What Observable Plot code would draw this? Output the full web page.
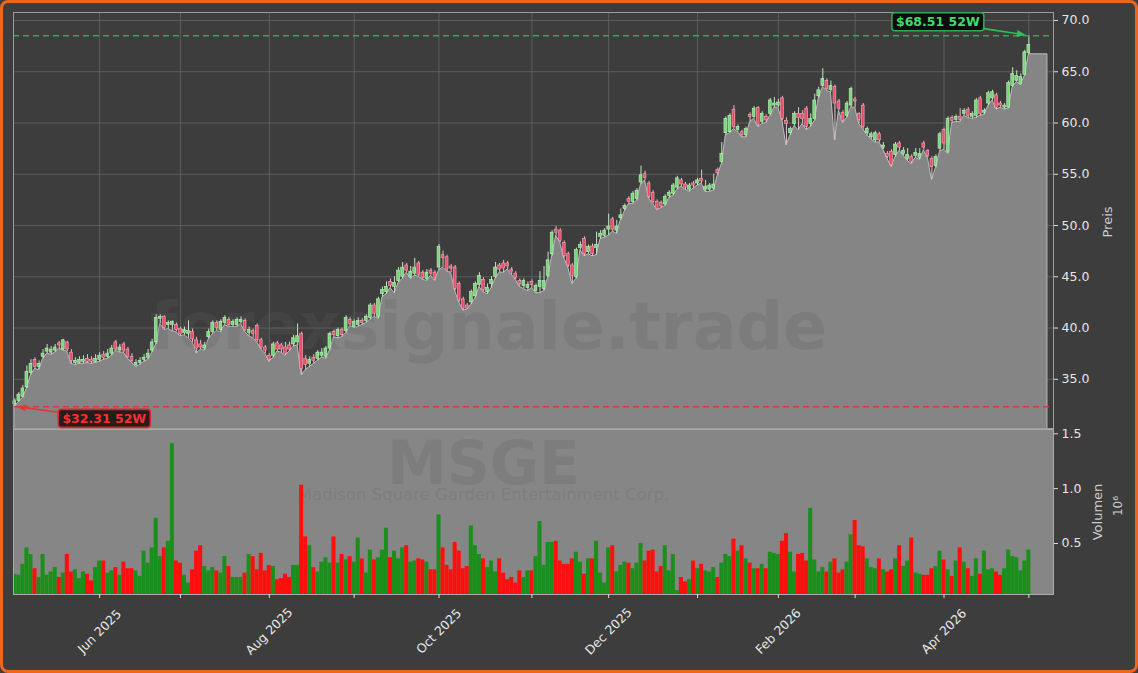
<!DOCTYPE html>
<html><head><meta charset="utf-8">
<script src="https://cdn.jsdelivr.net/npm/d3@7"></script>
<script src="https://cdn.jsdelivr.net/npm/@observablehq/plot@0.6"></script>
<style>
html,body{margin:0;padding:0;background:#3d3d3d;}
#wrap{position:relative;width:1138px;height:673px;overflow:hidden;background:#3d3d3d;font-family:"DejaVu Sans",sans-serif;}
#wrap svg{position:absolute;left:0;overflow:visible;}
#border{position:absolute;left:0;top:0;width:1138px;height:673px;box-sizing:border-box;border:3px solid #f0651a;border-radius:8px;pointer-events:none;}
</style></head><body>
<div id="wrap"></div>
<script>
// ---- data (trading-day index 0 = 1 May 2025 ... 251 = 1 May 2026) ----
const openP = [32.55,32.9,33.3,34.2,35.6,36.9,36.2,37.2,37.7,37.6,37.8,38.5,37.9,38.6,37.6,36.6,36.6,36.7,37.0,36.9,36.7,36.9,37.4,37.2,37.5,38.6,37.8,38.4,37.9,37.2,36.4,36.6,36.9,37.1,37.8,38.6,40.9,41.1,40.3,40.3,40.3,39.9,39.5,39.4,39.6,38.8,38.4,38.0,39.1,39.6,40.5,39.8,40.5,40.8,40.3,40.3,40.6,40.7,39.5,39.7,40.2,38.8,38.1,37.3,37.3,38.5,38.3,38.1,
38.3,38.4,38.6,39.4,37.0,36.5,37.1,37.0,37.3,37.2,38.0,39.6,39.2,39.8,39.7,40.8,40.1,40.3,40.7,40.7,41.0,42.2,41.1,43.3,43.5,44.5,44.0,44.6,45.0,46.1,45.0,45.3,46.3,45.4,44.8,45.6,45.4,45.9,47.1,46.9,46.0,45.9,44.3,42.8,42.2,42.5,43.1,44.2,44.7,43.5,44.3,45.0,46.1,46.3,46.3,45.7,45.3,44.6,44.1,43.9,44.5,43.6,44.0,43.8,45.1,47.2,49.6,
49.5,48.3,47.2,46.1,45.0,47.8,48.7,47.4,47.95,47.8,48.9,49.0,49.6,50.6,49.5,50.7,51.6,52.6,52.3,52.6,54.2,55.0,54.1,53.2,52.3,52.2,52.05,52.9,53.1,53.7,54.4,54.0,53.5,54.1,54.1,54.55,53.5,53.5,53.6,55.4,56.2,59.0,59.1,61.3,59.3,59.1,58.8,60.8,60.6,61.45,60.1,60.6,60.9,61.7,61.7,62.4,60.2,59.0,
59.9,60.9,60.9,61.4,59.9,60.4,62.6,63.6,64.1,63.2,63.5,62.1,61.0,60.7,61.7,62.3,60.9,61.7,59.0,58.6,58.3,58.9,57.6,57.0,57.2,56.9,58.0,57.0,56.5,56.7,56.8,56.6,58.0,57.3,56.5,55.8,57.5,59.3,57.2,60.5,60.3,60.6,60.9,61.3,60.6,60.7,62.4,61.0,61.9,62.4,62.7,61.9,61.5,61.5,63.6,64.1,63.8,64.7,66.8];
const highP = [33.1,33.7,34.4,36.3,36.9,37.1,36.8,37.9,38.4,38.2,38.4,38.7,38.9,38.7,37.9,37.1,37.2,37.3,37.4,37.2,37.4,37.6,37.7,37.9,38.3,38.8,38.4,38.6,38.1,37.5,36.9,37.1,37.4,37.9,38.9,41.3,41.3,41.2,40.7,40.7,40.5,40.1,40.1,40.7,39.9,39.1,38.8,38.6,39.9,40.7,40.7,40.8,41.2,41.0,40.8,41.0,41.1,40.9,40.1,39.9,40.4,39.0,38.3,37.5,38.6,38.7,38.5,38.6,
38.6,39.3,40.4,39.6,37.3,37.2,37.4,37.8,38.0,38.2,39.6,39.8,40.0,40.0,41.2,41.0,40.8,41.0,40.9,41.3,42.4,42.4,43.0,44.0,44.5,44.8,45.0,45.9,46.4,46.3,46.0,46.8,46.5,45.6,45.7,45.8,45.6,48.15,47.5,47.1,46.2,46.1,44.5,43.0,42.4,43.7,44.5,45.4,44.9,44.3,45.0,46.4,46.3,46.6,46.5,45.9,45.5,44.8,44.8,44.5,44.7,44.3,45.5,46.0,47.4,49.5,49.9,
49.7,48.5,47.4,46.3,47.8,48.4,48.9,48.1,48.2,49.35,49.5,49.7,51.1,50.8,50.5,51.6,52.1,52.8,53.3,53.6,55.8,55.3,54.3,53.4,52.5,52.4,53.0,53.4,54.1,54.8,54.6,54.2,54.1,54.3,54.6,55.4,54.4,54.1,55.0,55.6,58.1,60.6,60.9,61.7,59.8,59.3,59.6,61.0,61.6,61.6,61.1,60.8,62.4,62.5,62.3,62.6,60.5,59.6,
61.1,61.5,61.2,61.6,60.9,62.8,63.5,65.3,64.3,64.1,63.7,62.3,61.2,62.1,63.5,62.5,61.0,61.9,59.6,59.1,59.2,59.1,58.1,57.2,57.4,58.1,58.2,57.6,57.5,56.9,57.5,57.5,58.2,57.4,56.7,56.9,59.1,59.5,60.6,60.7,60.8,61.4,61.4,61.5,61.1,62.4,62.6,61.4,63.1,63.2,62.9,62.1,61.9,64.1,65.4,65.1,64.8,67.1,68.51];
const lowP = [32.31,32.8,33.2,34.1,35.4,36.0,35.9,37.0,37.5,37.4,37.6,38.0,37.8,37.7,36.5,36.4,36.5,36.5,36.6,36.5,36.6,36.7,36.9,37.0,37.3,37.8,37.6,37.6,37.0,36.6,36.2,36.4,36.7,36.9,37.6,38.4,40.4,39.8,39.9,39.7,39.6,39.2,39.3,39.0,38.6,37.5,37.9,37.8,38.9,39.4,39.7,39.6,40.3,40.1,40.1,40.1,40.4,39.6,39.2,39.0,38.6,37.9,37.5,36.7,37.1,37.7,37.6,37.3,
37.7,38.2,38.3,35.4,35.9,36.2,36.5,36.8,37.1,37.0,37.8,39.1,39.0,39.1,39.5,40.2,40.0,40.1,40.3,40.5,40.8,41.1,40.9,43.0,43.3,43.9,43.4,44.4,44.8,45.4,44.8,45.1,45.0,44.7,44.6,45.1,44.6,45.6,45.9,45.5,45.4,43.6,42.5,41.7,41.8,42.3,42.9,44.0,43.5,43.3,43.9,44.8,45.4,45.4,45.7,45.2,44.7,44.0,43.8,43.6,43.9,43.4,43.4,43.6,44.9,47.0,49.0,
48.3,46.8,45.9,44.3,44.8,47.6,47.0,47.2,47.0,47.1,48.7,48.8,49.0,49.4,49.2,50.5,51.4,52.1,52.1,52.4,54.0,54.4,52.6,52.1,51.5,51.7,51.9,52.7,52.9,53.5,53.8,53.5,53.3,53.6,53.9,54.1,53.25,53.3,53.4,54.9,56.0,58.8,59.0,59.4,59.1,58.6,58.6,60.1,60.4,59.6,59.9,60.0,60.7,61.5,61.5,60.2,57.8,58.8,
59.7,59.3,59.9,59.3,59.6,60.2,62.4,63.5,63.1,63.0,58.3,61.2,60.0,60.5,61.5,61.5,59.9,59.4,58.8,58.4,58.1,58.1,57.4,56.5,55.7,56.7,57.3,56.8,56.3,56.0,56.6,56.4,57.3,56.6,54.45,55.6,57.2,57.4,57.0,60.0,60.1,60.1,60.7,60.5,60.4,60.5,60.7,60.8,61.7,62.2,61.3,61.5,61.3,61.4,63.5,64.0,63.7,64.6,66.7];
const closeP = [32.85,33.5,34.1,35.7,36.5,36.2,36.5,37.5,38.0,37.9,38.1,38.3,38.8,37.9,36.8,36.8,36.9,36.9,36.7,36.7,37.0,37.3,37.1,37.5,38.0,37.9,38.1,37.8,37.2,36.8,36.6,36.8,37.1,37.5,38.6,41.0,41.1,40.0,40.5,40.6,39.8,39.4,39.8,39.7,38.9,38.0,38.1,38.3,39.6,40.5,40.0,40.6,41.0,40.3,40.6,40.8,40.8,39.8,39.8,39.4,38.8,38.1,37.8,36.9,38.4,37.9,37.9,37.5,
37.9,39.0,39.2,36.0,36.4,36.9,36.8,37.6,37.6,38.0,39.4,39.3,39.8,39.3,41.0,40.4,40.6,40.7,40.5,41.1,42.2,41.4,42.8,43.7,44.0,44.1,44.4,45.6,45.9,45.6,45.5,45.9,45.2,44.9,45.4,45.3,44.9,47.9,46.8,45.7,45.8,43.8,42.7,41.9,41.9,43.5,44.3,45.1,43.7,43.9,44.7,45.9,45.7,45.8,46.0,45.5,44.9,44.3,44.6,44.2,44.2,44.1,44.6,44.6,46.6,49.3,49.3,
48.5,47.0,46.1,45.1,47.6,48.1,47.2,47.9,47.2,48.1,49.2,49.5,49.9,49.6,49.9,51.0,51.9,52.3,53.1,53.4,54.9,54.65,52.8,52.3,51.6,51.85,52.8,53.2,53.9,54.6,54.0,53.7,53.9,53.9,54.4,54.3,53.8,53.9,54.0,55.1,57.0,60.4,60.7,59.6,59.6,58.8,59.4,60.6,61.4,59.8,60.9,60.25,62.2,61.9,62.0,60.4,59.9,59.4,
60.9,60.5,60.4,59.6,60.4,62.2,63.2,64.3,63.3,63.6,61.9,61.4,60.2,61.9,63.3,62.1,60.3,59.6,59.4,58.9,59.0,58.3,57.8,56.7,55.9,57.9,57.6,57.3,56.9,56.2,57.1,57.0,57.6,56.8,55.7,56.7,58.9,58.0,60.4,60.2,60.6,60.3,61.2,60.7,60.9,62.2,60.9,61.2,62.9,63.0,61.5,61.7,61.7,63.9,64.8,64.6,64.5,66.9,67.6];
// volume in millions of shares
const volumeM = [0.22,0.21,0.31,0.46,0.40,0.27,0.19,0.40,0.21,0.24,0.28,0.19,0.23,0.40,0.24,0.26,0.18,0.24,0.22,0.16,0.28,0.34,0.34,0.23,0.25,0.28,0.21,0.33,0.27,0.27,0.25,0.20,0.43,0.32,0.46,0.73,0.38,0.46,0.52,1.41,0.34,0.32,0.21,0.14,0.26,0.43,0.48,0.29,0.25,0.28,0.25,0.23,0.38,0.29,0.19,0.19,0.19,0.23,0.40,0.38,0.26,0.41,0.25,0.30,0.29,0.17,0.18,0.22,0.19,0.30,0.30,1.03,0.56,0.48,0.28,0.24,0.33,0.37,0.32,0.56,0.32,0.40,0.35,0.38,0.33,0.55,0.36,0.23,0.44,0.35,0.37,0.44,0.64,0.37,0.43,0.36,0.46,0.48,0.33,0.34,0.36,0.35,0.33,0.26,0.26,0.76,0.46,0.30,0.26,0.51,0.43,0.27,0.29,0.66,0.48,0.40,0.36,0.28,0.34,0.24,0.36,0.23,0.17,0.19,0.14,0.25,0.19,0.25,0.25,0.38,0.70,0.30,0.51,0.51,0.52,
0.34,0.31,0.31,0.36,0.42,0.33,0.22,0.36,0.36,0.52,0.23,0.14,0.46,0.48,0.24,0.30,0.33,0.32,0.27,0.32,0.50,0.34,0.43,0.44,0.24,0.29,0.48,0.25,0.40,0.07,0.19,0.15,0.17,0.34,0.27,0.31,0.25,0.24,0.28,0.19,0.32,0.40,0.38,0.54,0.43,0.48,0.36,0.32,0.27,0.27,0.31,0.27,0.42,0.41,0.40,0.52,0.59,0.42,0.24,0.40,0.41,0.34,0.82,0.35,0.24,0.28,0.24,0.33,0.36,0.23,0.26,0.33,0.58,0.71,0.48,0.47,0.36,0.28,0.27,0.36,0.26,0.24,0.26,0.36,0.48,0.29,0.34,0.55,0.23,0.22,0.21,0.21,0.27,0.29,0.43,0.35,0.26,0.20,0.34,0.46,0.33,0.27,0.20,0.36,0.22,0.43,0.26,0.27,0.24,0.21,0.27,0.44,0.38,0.37,0.25,0.34,0.44];
const monthTickIdx = [21,41,63,84,105,128,147,169,189,208,230,251];
const monthTickLabels = ["Jun 2025","","Aug 2025","","Oct 2025","","Dec 2025","","Feb 2026","","Apr 2026",""];
const priceTicks = [35,40,45,50,55,60,65,70];
const volumeTicks = [0.5,1.0,1.5];
const low52 = 32.31, high52 = 68.51;
const lowLabel = "$32.31 52W", highLabel = "$68.51 52W";
const areaTailIndex = 255.6;
const watermark = "forexsignale.trade", ticker = "MSGE", company = "Madison Square Garden Entertainment Corp.";

// ---- build tables ----
const candles = openP.map((o, i) => ({i, o, h: highP[i], l: lowP[i], c: closeP[i], v: volumeM[i], up: closeP[i] >= openP[i]}));
const areaData = candles.map(d => ({i: d.i, y: d.l})).concat([{i: areaTailIndex, y: lowP[lowP.length - 1]}]);
const monthLabels = monthTickIdx.map((i, k) => ({i, label: monthTickLabels[k]})).filter(d => d.label);
const xDomain = [-0.32, 257.1];
const font = "DejaVu Sans";

const price = Plot.plot({
  width: 1138, height: 430,
  marginLeft: 13, marginRight: 85, marginTop: 12, marginBottom: 2,
  style: {background: "transparent", color: "#e6e6e6", fontFamily: font, fontSize: "12.5px", overflow: "visible"},
  x: {domain: xDomain, axis: null},
  y: {domain: [30.2, 70.78], axis: null},
  color: {type: "identity"},
  marks: [
    Plot.gridX(monthTickIdx, {stroke: "#656565", strokeOpacity: 1, strokeWidth: 0.8}),
    Plot.gridY(priceTicks, {stroke: "#656565", strokeOpacity: 1, strokeWidth: 0.8}),
    Plot.areaY(areaData, {x: "i", y: "y", fill: "#858585", stroke: "#bcbcbc", strokeWidth: 1, clip: true}),
    Plot.text([watermark], {frameAnchor: "middle", dx: -45, dy: 108, fontSize: 65, fontWeight: "bold", fill: "#5e5e5e", fillOpacity: 0.22, fontFamily: font}),
    Plot.ruleX(candles, {x: "i", y1: "l", y2: "h", stroke: d => d.up ? "#c4e2c4" : "#e2bfc6", strokeWidth: 1}),
    Plot.rect(candles, {x1: d => d.i - 0.35, x2: d => d.i + 0.35, y1: "o", y2: "c",
      fill: d => d.up ? "#78d878" : "#ee4b6a", stroke: d => d.up ? "#c4f0c4" : "#f5a8b8", strokeWidth: 0.6}),
    Plot.ruleY([low52], {stroke: "#d63c3c", strokeDasharray: "6,4", strokeWidth: 1.5}),
    Plot.ruleY([high52], {stroke: "#2fa852", strokeDasharray: "6,4", strokeWidth: 1.5}),
    Plot.frame({stroke: "#9c9c9c", strokeWidth: 1}),
    Plot.axisY(priceTicks, {anchor: "right", tickFormat: d3.format(".1f"), tickSize: 4, tickPadding: 4, stroke: "#dcdcdc", fill: "#e6e6e6", label: null, fontSize: 12.5})
  ]
});

const vol = Plot.plot({
  width: 1138, height: 245,
  marginLeft: 13, marginRight: 85, marginTop: 1, marginBottom: 79,
  style: {background: "transparent", color: "#e6e6e6", fontFamily: font, fontSize: "12.5px", overflow: "visible"},
  x: {domain: xDomain, axis: null},
  y: {domain: [0.035, 1.539], axis: null},
  color: {type: "identity"},
  marks: [
    Plot.frame({fill: "#868686"}),
    Plot.text([ticker], {frameAnchor: "middle", dx: -50, dy: -47, fontSize: 60, fontWeight: "bold", fill: "#5e5e5e", fillOpacity: 0.22, fontFamily: font}),
    Plot.text([company], {frameAnchor: "middle", dx: -50, dy: -17, fontSize: 16.5, fill: "#5e5e5e", fillOpacity: 0.22, fontFamily: font}),
    Plot.rectY(candles, {x1: d => d.i - 0.5, x2: d => d.i + 0.5, y1: 0, y2: "v", fill: d => d.up ? "#1b8f1b" : "#ff0e0e", clip: true}),
    Plot.frame({stroke: "#ababab", strokeWidth: 1}),
    Plot.axisX(monthTickIdx, {anchor: "bottom", tickFormat: () => "", tickSize: 4, stroke: "#dcdcdc", label: null}),
    Plot.text(monthLabels, {x: "i", text: "label", frameAnchor: "bottom", dy: 37, rotate: -45, textAnchor: "middle", lineAnchor: "middle", fill: "#e6e6e6", fontSize: 12.5, fontFamily: font}),
    Plot.axisY(volumeTicks, {anchor: "right", tickFormat: d3.format(".1f"), tickSize: 4, tickPadding: 4, stroke: "#dcdcdc", fill: "#e6e6e6", label: null, fontSize: 12.5})
  ]
});

const wrap = document.getElementById("wrap");
price.style.top = "0px";
vol.style.top = "428px";
wrap.appendChild(price);
wrap.appendChild(vol);
const border = document.createElement("div");
border.id = "border";
wrap.appendChild(border);

// axis titles
function vText(svg, x, y, txt, size, color) {
  d3.select(svg).append("text")
    .attr("transform", `translate(${x},${y}) rotate(-90)`)
    .attr("text-anchor", "middle").attr("dominant-baseline", "central")
    .attr("font-family", font).attr("font-size", size).attr("fill", color).text(txt);
}
vText(price, 1107, 222, "Preis", 13, "#cccccc");
vText(vol, 1097, 84, "Volumen", 13, "#cccccc");
vText(vol, 1118, 78, "10⁶", 12, "#cccccc");

// 52-week annotations
function annotate(plot, xi, yv, dx, dy, label, st) {
  const X = plot.scale("x").apply(xi), Y = plot.scale("y").apply(yv);
  const g = d3.select(plot).append("g");
  const cx = X + dx, cy = Y + dy;
  const rect = g.append("rect");
  const text = g.append("text").attr("x", cx).attr("y", cy)
    .attr("text-anchor", "middle").attr("dominant-baseline", "central")
    .attr("font-family", font).attr("font-weight", "bold").attr("font-size", 12.5)
    .attr("fill", st.text).text(label);
  const bb = text.node().getBBox();
  const px = 4, py = 1.5;
  const bw = bb.width + 2 * px, bh = bb.height + 2 * py;
  rect.attr("x", cx - bw / 2).attr("y", cy - bh / 2).attr("width", bw).attr("height", bh)
    .attr("rx", 3).attr("fill", st.fill).attr("fill-opacity", 0.9).attr("stroke", st.border).attr("stroke-width", 1.6);
  const vx = X - cx, vy = Y - cy;
  const t = Math.min(vx ? (bw / 2) / Math.abs(vx) : Infinity, vy ? (bh / 2) / Math.abs(vy) : Infinity);
  const sx = cx + vx * t, sy = cy + vy * t;
  const L = Math.hypot(X - sx, Y - sy), ux = (X - sx) / L, uy = (Y - sy) / L;
  const ex = X - ux * 2.5, ey = Y - uy * 2.5, hl = 9, hw = 3.5;
  g.append("line").attr("x1", sx).attr("y1", sy).attr("x2", ex - ux * hl * 0.8).attr("y2", ey - uy * hl * 0.8)
    .attr("stroke", st.arrow).attr("stroke-width", 1.6);
  g.append("polygon").attr("points", [
    [ex, ey],
    [ex - ux * hl + uy * hw, ey - uy * hl - ux * hw],
    [ex - ux * hl - uy * hw, ey - uy * hl + ux * hw]
  ].map(p => p.join(",")).join(" ")).attr("fill", st.arrow);
}
const iHigh = highP.indexOf(Math.max(...highP));
const iLow = lowP.indexOf(Math.min(...lowP));
annotate(price, iHigh, high52, -90.5, -13.5, highLabel, {text: "#3fdc6c", fill: "#050505", border: "#2fa852", arrow: "#2fbf5a"});
annotate(price, iLow, low52, 90, 12, lowLabel, {text: "#ff2d2d", fill: "#1a1212", border: "#d42626", arrow: "#e53535"});
</script>
</body></html>
